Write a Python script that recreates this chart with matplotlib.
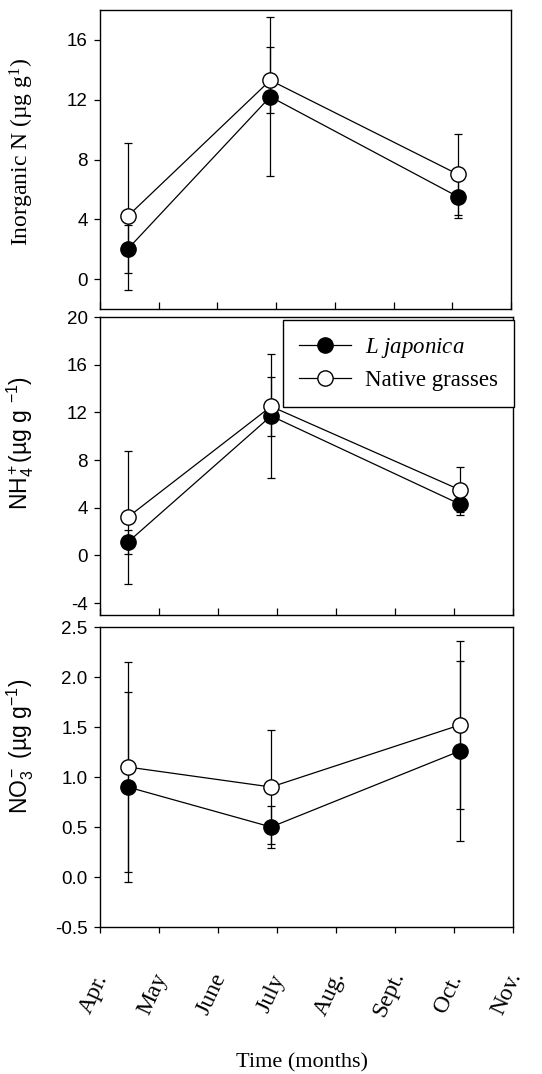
import matplotlib
matplotlib.use('Agg')
import matplotlib.pyplot as plt
from matplotlib.transforms import ScaledTranslation

plt.rcParams['font.family'] = 'Liberation Sans'
plt.rcParams['mathtext.fontset'] = 'custom'
plt.rcParams['mathtext.rm'] = 'Liberation Serif'
plt.rcParams['mathtext.it'] = 'Liberation Serif:italic'
plt.rcParams['mathtext.sf'] = 'Liberation Sans'

# sampling dates on a month axis (0 = Apr.)
sample_x = [0.47, 2.9, 6.1]
months = ['Apr.', 'May', 'June', 'July', 'Aug.', 'Sept.', 'Oct.', 'Nov.']

# inorganic N
inorg_lj = [2.0, 12.2, 5.5]
inorg_lj_err = [1.6, 5.3, 1.4]
inorg_ng = [4.2, 13.3, 7.0]
inorg_ng_err = [4.9, 2.2, 2.7]

# NH4+
nh4_lj = [1.1, 11.7, 4.3]
nh4_lj_err = [1.0, 5.2, 0.9]
nh4_ng = [3.2, 12.5, 5.5]
nh4_ng_err = [5.6, 2.5, 1.9]

# NO3-
no3_lj = [0.9, 0.5, 1.26]
no3_lj_err = [0.95, 0.21, 0.9]
no3_ng = [1.1, 0.9, 1.52]
no3_ng_err = [1.05, 0.57, 0.84]

fig = plt.figure(figsize=(5.42, 10.74), dpi=100)
W, H = 542.0, 1074.0

def make_ax(left, top, right, bottom):
    return fig.add_axes([left / W, 1 - bottom / H, (right - left) / W, (bottom - top) / H])

ax1 = make_ax(100, 10, 511, 309)
ax2 = make_ax(100, 317, 513, 615)
ax3 = make_ax(100, 627, 513, 927)

panels = [
    (ax1, inorg_lj, inorg_lj_err, inorg_ng, inorg_ng_err, (-2, 18), [0, 4, 8, 12, 16], ['0', '4', '8', '12', '16'],
     'Inorganic N (\u00b5g g$^{1}$)', 'Liberation Serif', 17, 0.525),
    (ax2, nh4_lj, nh4_lj_err, nh4_ng, nh4_ng_err, (-5, 20), [-4, 0, 4, 8, 12, 16, 20], ['-4', '0', '4', '8', '12', '16', '20'],
     '$\\mathsf{NH_4^+}$(\u00b5g g $\\mathsf{^{-1}}$)', 'Liberation Sans', 16.5, 0.577),
    (ax3, no3_lj, no3_lj_err, no3_ng, no3_ng_err, (-0.5, 2.5), [-0.5, 0, 0.5, 1.0, 1.5, 2.0, 2.5],
     ['-0.5', '0.0', '0.5', '1.0', '1.5', '2.0', '2.5'], '$\\mathsf{NO_3^-}$ (\u00b5g g$\\mathsf{^{-1}}$)',
     'Liberation Sans', 16.5, 0.603),
]

for ax, lj, lje, ng, nge, ylim, yt, ytl, ylab, lfam, lsize, ly in panels:
    ax.errorbar(sample_x, lj, yerr=lje, fmt='none', ecolor='black', elinewidth=0.9, capsize=3, capthick=0.9, zorder=2)
    ax.errorbar(sample_x, ng, yerr=nge, fmt='none', ecolor='black', elinewidth=0.9, capsize=3, capthick=0.9, zorder=2)
    ax.plot(sample_x, lj, '-o', color='black', lw=0.9, ms=11, mfc='black', mec='black', mew=1,
            label='$\\mathit{L\\ japonica}$', zorder=3)
    ax.plot(sample_x, ng, '-o', color='black', lw=0.9, ms=11, mfc='white', mec='black', mew=1,
            label='Native grasses', zorder=4)
    ax.set_xlim(0, 7)
    ax.set_ylim(*ylim)
    ax.set_yticks(yt)
    ax.set_yticklabels(ytl)
    ax.set_xticks(range(8))
    ax.tick_params(axis='y', direction='out', length=4, width=0.9, labelsize=13.5, pad=5)
    for s in ax.spines.values():
        s.set_linewidth(1.0)
    ax.set_ylabel(ylab, fontsize=lsize, family=lfam)
    ax.yaxis.set_label_coords(-0.155, ly)

for ax in (ax1, ax2):
    ax.tick_params(axis='x', direction='in', length=5, width=0.9, labelbottom=False)

ax3.tick_params(axis='x', direction='out', length=4, width=0.9, pad=44)
ax3.set_xticklabels(months, rotation=65, fontsize=17, family='Liberation Serif', ha='center', va='center')
shift = ScaledTranslation(-6 / 100, 0, fig.dpi_scale_trans)
for lab in ax3.get_xticklabels():
    lab.set_transform(lab.get_transform() + shift)

fig.text(302 / W, 1 - 1063 / H, 'Time (months)', fontsize=16, family='Liberation Serif', ha='center', va='center')

leg = ax2.legend(loc='upper right', bbox_to_anchor=(1.003, 0.99), frameon=True, fancybox=False,
                 edgecolor='black', framealpha=1, handlelength=2.3, handletextpad=0.6, borderpad=0.7,
                 labelspacing=0.45, borderaxespad=0, prop={'family': 'Liberation Serif', 'size': 16.5})
leg.get_frame().set_linewidth(1.0)

fig.savefig('out.png', dpi=100)
